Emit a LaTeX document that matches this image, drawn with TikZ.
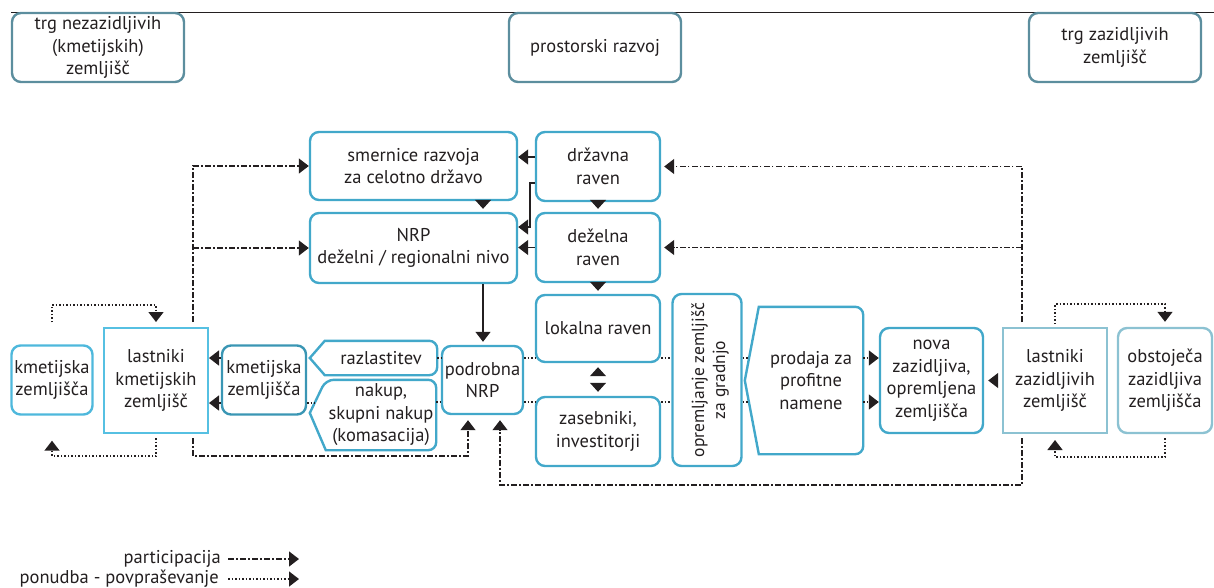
\documentclass[tikz,border=0pt]{standalone}
\usepackage{fontspec}
\setmainfont{PT Sans}
\usetikzlibrary{arrows.meta,calc}
\definecolor{ink}{RGB}{35,31,32}
\definecolor{topc}{RGB}{92,142,158}
\definecolor{midc}{RGB}{66,168,202}
\definecolor{kmzc}{RGB}{58,150,180}
\definecolor{lkc}{RGB}{86,192,226}
\definecolor{kmlc}{RGB}{78,184,220}
\definecolor{lightc}{RGB}{140,194,210}
\begin{document}
\begin{tikzpicture}[x=1pt,y=-1pt,
  font=\fontsize{18.5}{22.5}\selectfont,
  box/.style={draw=midc, line width=2.4pt, rounded corners=9pt, align=center,
    inner sep=0pt, text=ink},
  topbox/.style={box, draw=topc},
  sqbox/.style={box, sharp corners, line width=2pt},
  shapetext/.style={align=center, inner sep=0pt, text=ink},
  shp/.style={draw=midc, line width=2.4pt, line join=miter},
  tip/.style={-{Triangle[length=10pt,width=15pt]}},
  sol/.style={draw=ink, line width=1.4pt, tip},
  stub/.style={draw=ink, line width=1.3pt, -{Triangle[length=9pt,width=16pt]}},
  dots/.style={draw=ink, line width=1.5pt, dash pattern=on 1.5pt off 2pt},
  dotarrow/.style={dots, tip},
  part/.style={draw=ink, line width=1.4pt, dash pattern=on 6pt off 2.2pt on 1.6pt off 2.2pt},
  partarrow/.style={part, tip}]
\useasboundingbox (0,0) rectangle (1214,587);

% head rule
\draw[ink, line width=0.9pt] (11,12) -- (1214,12);

% market and planning headers
\node[topbox, minimum width=172pt, minimum height=69pt] (trgN) at (98,47.5)
  {trg nezazidljivih\\(kmetijskih)\\zemljišč};
\node[topbox, minimum width=172pt, minimum height=69pt] (prost) at (595,47.5)
  {prostorski razvoj};
\node[topbox, minimum width=172pt, minimum height=69pt] (trgZ) at (1115,47.5)
  {trg zazidljivih\\zemljišč};

% planning levels
\node[box, minimum width=207pt, minimum height=68pt] (smer) at (413.5,166)
  {smernice razvoja\\za celotno državo};
\node[box, minimum width=207pt, minimum height=70pt] (nrp) at (413.5,248)
  {NRP\\deželni / regionalni nivo};
\node[box, minimum width=124pt, minimum height=69pt] (drz) at (598,166.5) {državna\\raven};
\node[box, minimum width=124pt, minimum height=69pt] (dez) at (598,247.5) {deželna\\raven};
\node[box, minimum width=124pt, minimum height=67pt] (lok) at (598,328.5) {lokalna raven};
\node[box, minimum width=124pt, minimum height=69pt] (zas) at (598,431.5) {zasebniki,\\investitorji};
\node[box, minimum width=81pt, minimum height=68pt] (pod) at (482.5,380) {podrobna\\NRP};

% agricultural land side
\node[box, draw=kmzc, minimum width=84pt, minimum height=69pt] (kmz) at (264,380)
  {kmetijska\\zemljišča};
\node[sqbox, draw=lkc, minimum width=104pt, minimum height=105pt] (lastk) at (156,380.5)
  {lastniki\\kmetijskih\\zemljišč};
\node[box, draw=kmlc, minimum width=81pt, minimum height=69pt] (kml) at (52,380)
  {kmetijska\\zemljišča};

% acquisition shapes
\node[shapetext, minimum width=112pt, minimum height=34pt] (raz) at (381,358) {razlastitev};
\draw[shp] ([xshift=-15pt]raz.west) -- (raz.north west)
  [rounded corners=8pt] -- (raz.north east) -- (raz.south east)
  [sharp corners] -- (raz.south west) -- cycle;
\node[shapetext, minimum width=110pt, minimum height=70pt] (nak) at (381,415)
  {nakup,\\skupni nakup\\(komasacija)};
\draw[shp] ([xshift=-16pt,yshift=2pt]nak.west)
  [rounded corners=8pt] -- (nak.north west) -- (nak.north east) -- (nak.south east)
  [sharp corners] -- (nak.south west) -- cycle;

% building land side
\node[box, minimum width=69pt, minimum height=172pt] (opr) at (707,380) {};
\node[shapetext, rotate=90, font=\fontsize{17.5}{21}\selectfont] (oprT) at ([xshift=3pt]opr.center)
  {opremljanje zemljišč\\za gradnjo};
\node[shapetext, minimum width=104pt, minimum height=147pt] (prod) at (811,380.5)
  {prodaja za\\profitne\\namene};
\draw[shp] ([xshift=-14pt]prod.west) -- (prod.north west)
  [rounded corners=8pt] -- (prod.north east) -- (prod.south east)
  [sharp corners] -- (prod.south west) -- cycle;
\node[box, minimum width=103pt, minimum height=105pt] (nova) at (931.5,380.5)
  {nova\\zazidljiva,\\opremljena\\zemljišča};
\node[sqbox, draw=lightc, minimum width=104pt, minimum height=105pt] (lastz) at (1055,380.5)
  {lastniki\\zazidljivih\\zemljišč};
\node[box, draw=lightc, minimum width=94pt, minimum height=105pt] (obs) at (1165,380.5)
  {obstoječa\\zazidljiva\\zemljišča};

% hierarchy of plans
\draw[sol] (drz.west |- 0,157) -- (smer.east |- 0,157);
\draw[sol] (drz.west |- 0,183) -| ([xshift=-5pt]drz.west |- 0,227) -- (nrp.east |- 0,227);
\draw[sol] (dez.west) -- (nrp.east |- dez.west);
\draw[stub, shorten >=3pt] (smer.south -| 483,0) -- (nrp.north -| 483,0);
\draw[stub, shorten >=3pt] (drz.south) -- (dez.north);
\draw[stub, shorten >=3pt] (dez.south) -- (lok.north);
\coordinate (lz) at ($(lok.south)!0.5!(zas.north)$);
\draw[stub, shorten <=5pt, shorten >=4pt] (lz) -- (lok.south);
\draw[stub, shorten <=5pt, shorten >=4pt] (lz) -- (zas.north);
\draw[sol, shorten >=3pt] (nrp.south -| 483,0) -- (pod.north -| 483,0);

% supply and demand: building land
\draw[dots] (pod.east |- 0,358) -- (lok.west |- 0,358);
\draw[dots] (lok.east |- 0,358) -- (opr.west |- 0,358);
\draw[dots] (opr.east |- 0,358) -- ([xshift=-10pt]prod.west |- 0,358);
\draw[dotarrow] (prod.east |- 0,358) -- (nova.west |- 0,358);
\draw[dots] (pod.east |- 0,402) -- (zas.west |- 0,402);
\draw[dots] (zas.east |- 0,402) -- (opr.west |- 0,402);
\draw[dots] (opr.east |- 0,402) -- ([xshift=-10pt]prod.west |- 0,402);
\draw[dotarrow] (prod.east |- 0,402) -- (nova.west |- 0,402);
\draw[sol, shorten <=8pt, shorten >=4pt] (lastz.west) -- (nova.east);

% supply and demand: agricultural land
\draw[dots] (raz.east) -- (pod.west |- raz.east);
\draw[dots] (nak.east |- 0,402) -- (pod.west |- 0,402);
\draw[dots] (kmz.east |- 0,403) -- ([xshift=-11pt]nak.west |- 0,403);
\draw[dotarrow] (kmz.west |- 0,358) -- (lastk.east |- 0,358);
\draw[dotarrow] (kmz.west |- 0,403) -- (lastk.east |- 0,403);

% market loops
\draw[dotarrow, shorten <=22pt, shorten >=5pt] (kml.north) -- (kml.north |- 0,305) -| (lastk.north);
\draw[dotarrow, shorten <=4pt, shorten >=25pt] (lastk.south) -- (lastk.south |- 0,456) -| (kml.south);
\draw[dotarrow, shorten <=3pt, shorten >=5pt] (lastz.north) -- (lastz.north |- 0,304) -| (obs.north);
\draw[dotarrow, shorten <=4pt, shorten >=6pt] (obs.south) -- (obs.south |- 0,457) -| (lastz.south);

% participation
\draw[partarrow, shorten <=5pt] ([xshift=37pt]lastk.north) |- (smer.west);
\coordinate (pjL) at ([xshift=37pt]lastk.north |- nrp.west);
\draw[partarrow] (pjL) -- (nrp.west);
\draw[partarrow, shorten <=4pt, shorten >=5pt] ([xshift=37pt]lastk.south)
  -- ([xshift=37pt]lastk.south |- 0,456) -| ([xshift=-14.5pt]pod.south);
\draw[partarrow, shorten <=4pt, shorten >=5pt] ([xshift=-33pt]lastz.south)
  -- ([xshift=-33pt]lastz.south |- 0,485) -| ([xshift=17.5pt]pod.south);
\draw[partarrow, shorten <=5pt, shorten >=3pt] ([xshift=-33pt]lastz.north) |- (drz.east);
\coordinate (pjR) at ([xshift=-33pt]lastz.north |- dez.east);
\draw[partarrow, shorten >=3pt] (pjR) -- (dez.east);

% legend
\node[anchor=east, inner sep=0pt, text=ink] (legP) at (221,559) {participacija};
\node[anchor=east, inner sep=0pt, text=ink] (legD) at (219,579) {ponudba - povpraševanje};
\coordinate (legPend) at (299,559);
\coordinate (legDend) at (299,579);
\draw[partarrow] ([xshift=7pt]legP.east) -- (legPend);
\draw[dotarrow] ([xshift=9pt]legD.east) -- (legDend);
\end{tikzpicture}
\end{document}
